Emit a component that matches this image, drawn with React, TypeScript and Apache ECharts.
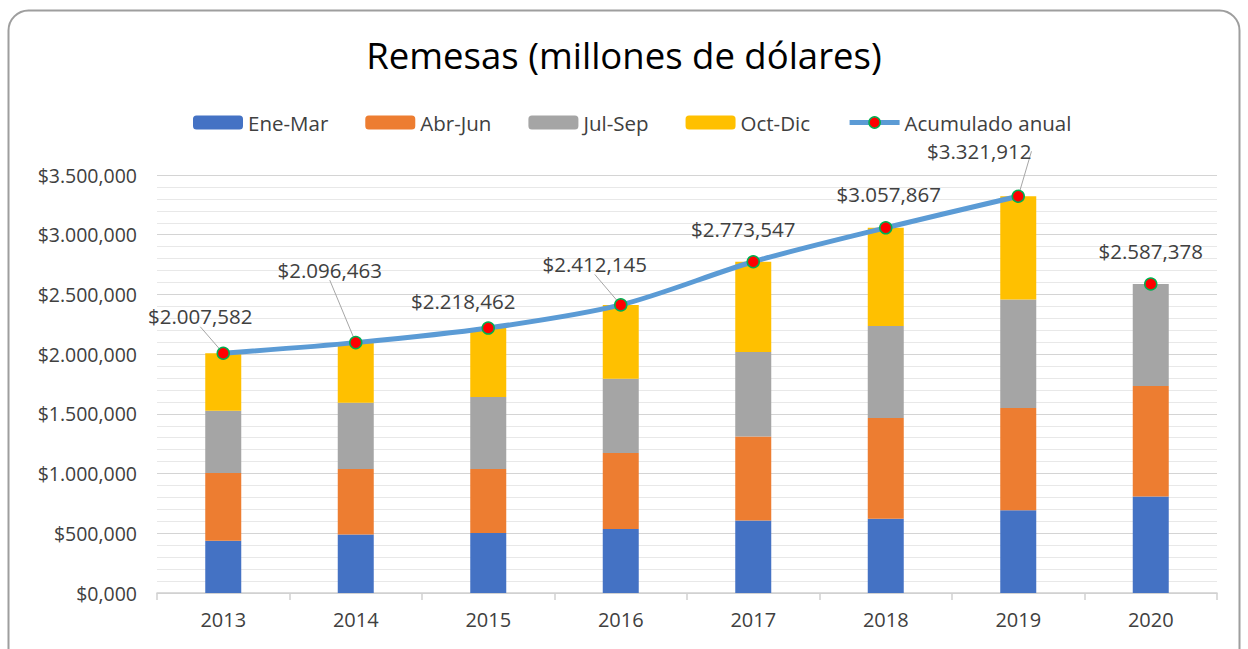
import React, { useEffect, useRef } from "react";
import * as echarts from "echarts";

const years = ["2013", "2014", "2015", "2016", "2017", "2018", "2019", "2020"];
const eneMar = [438000, 489000, 503000, 536000, 608000, 622000, 692000, 807000];
const abrJun = [567000, 550000, 536000, 637000, 703000, 843000, 857000, 927000];
const julSep = [522000, 553000, 603000, 620000, 706000, 770000, 908000, 853000];
const octDic: (number | null)[] = [480000, 504000, 576000, 619000, 757000, 823000, 865000, null];
const acumulado = [2007582, 2096463, 2218462, 2412145, 2773547, 3057867, 3321912, 2587378];
const connected = [true, true, true, true, true, true, true, false];

const labelOffsets = [
  [-23, -37], [-26, -73], [-25, -27], [-26, -41],
  [-10, -33], [3, -34], [-39, -45], [0, -33],
];
const leaderShown = [true, true, false, true, false, false, true, false];

const FONT = "'Open Sans', 'Noto Sans', sans-serif";

function fmt(v: number): string {
  let s = Math.round(v).toString();
  while (s.length < 4) s = "0" + s;
  const groups: string[] = [];
  while (s.length > 3) {
    groups.unshift(s.slice(-3));
    s = s.slice(0, -3);
  }
  groups.unshift(s);
  const last = groups.pop();
  return "$" + groups.join(".") + "," + last;
}

export default function App() {
  const ref = useRef<HTMLDivElement>(null);
  useEffect(() => {
    if (!ref.current) return;
    const chart = echarts.init(ref.current, null, { renderer: "svg" });
    const pointLabel = {
      show: true,
      position: "inside",
      fontSize: 20.5,
      lineHeight: 20,
      fontFamily: FONT,
      color: "#404040",
      opacity: 1,
      formatter: (p: any) => fmt(typeof p.value === "number" ? p.value : Number(p.value)),
    };
    const layout = (params: any) => {
      const o = labelOffsets[params.dataIndex];
      return { dx: o[0], dy: o[1] };
    };
    const markerStyle = { color: "#ff0000", borderColor: "#00b050", borderWidth: 1.5, opacity: 1 };
    chart.setOption({
      animation: false,
      backgroundColor: "#ffffff",
      title: {
        text: "Remesas (millones de dólares)",
        left: "center",
        top: 31,
        textStyle: { fontSize: 36.5, fontWeight: "normal", color: "#000000", fontFamily: FONT },
      },
      legend: {
        data: [
          "Ene-Mar",
          "Abr-Jun",
          "Jul-Sep",
          "Oct-Dic",
          { name: "Acumulado anual", itemStyle: markerStyle, lineStyle: { width: 5, color: "#5b9bd5" } },
        ],
        left: 188,
        top: 107,
        itemWidth: 50,
        itemHeight: 14,
        itemGap: 37,
        textStyle: { fontSize: 20.5, lineHeight: 20, color: "#404040", fontFamily: FONT },
      },
      graphic: [
        {
          type: "rect",
          shape: { x: 8.5, y: 10.5, width: 1231, height: 700, r: 20 },
          style: { fill: "none", stroke: "#9e9e9e", lineWidth: 2 },
          silent: true,
        },
      ],
      grid: { left: 157, right: 31, top: 175, bottom: 56 },
      xAxis: {
        type: "category",
        data: years,
        axisLine: { lineStyle: { color: "#d0d0d0", width: 1.5 } },
        axisTick: { show: true, length: 7, lineStyle: { color: "#d0d0d0", width: 1.5 } },
        axisLabel: { fontSize: 20, color: "#404040", fontFamily: FONT, margin: 16 },
      },
      yAxis: {
        type: "value",
        min: 0,
        max: 3500000,
        interval: 500000,
        axisLine: { show: false },
        axisTick: { show: false },
        axisLabel: { fontSize: 19.5, color: "#404040", fontFamily: FONT, margin: 20, formatter: (v: number) => fmt(v) },
        splitLine: { show: true, lineStyle: { color: "#d4d4d4", width: 1.2 } },
        minorTick: { show: false, splitNumber: 5 },
        minorSplitLine: { show: true, lineStyle: { color: "#e8e8e8", width: 1 } },
      },
      series: [
        { name: "Ene-Mar", type: "bar", stack: "total", barWidth: 36, data: eneMar, itemStyle: { color: "#4472c4" } },
        { name: "Abr-Jun", type: "bar", stack: "total", barWidth: 36, data: abrJun, itemStyle: { color: "#ed7d31" } },
        { name: "Jul-Sep", type: "bar", stack: "total", barWidth: 36, data: julSep, itemStyle: { color: "#a5a5a5" } },
        { name: "Oct-Dic", type: "bar", stack: "total", barWidth: 36, data: octDic.map((v) => (v == null ? "-" : v)), itemStyle: { color: "#ffc000" } },
        {
          name: "Acumulado anual",
          type: "line",
          smooth: 0.3,
          z: 5,
          data: acumulado.map((v, i) =>
            connected[i] ? { value: v, labelLine: { show: leaderShown[i] } } : "-"
          ),
          symbol: "circle",
          symbolSize: 12,
          lineStyle: { color: "#5b9bd5", width: 5 },
          itemStyle: markerStyle,
          label: pointLabel,
          labelLine: { show: true, lineStyle: { color: "#a6a6a6", width: 1 } },
          labelLayout: layout,
        },
        {
          name: "Acumulado anual",
          type: "scatter",
          z: 5,
          data: acumulado.map((v, i) => (connected[i] ? "-" : v)),
          symbol: "circle",
          symbolSize: 12,
          itemStyle: markerStyle,
          label: pointLabel,
          labelLayout: layout,
        },
      ],
    });
    return () => chart.dispose();
  }, []);
  return (
    <div
      ref={ref}
      style={{ position: "fixed", left: 0, top: 0, width: 1248, height: 649 }}
    />
  );
}
